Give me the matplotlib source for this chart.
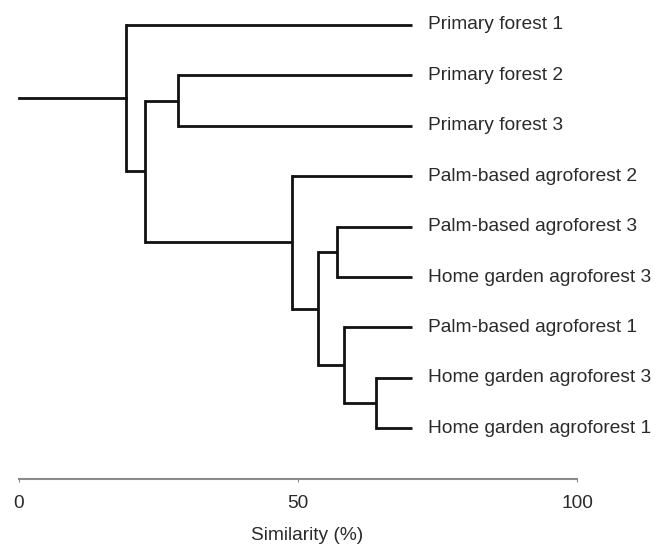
import matplotlib
matplotlib.use('Agg')
import matplotlib.pyplot as plt

# Leaf labels, top to bottom
leaves = ['Primary forest 1', 'Primary forest 2', 'Primary forest 3',
          'Palm-based agroforest 2', 'Palm-based agroforest 3',
          'Home garden agroforest 3', 'Palm-based agroforest 1',
          'Home garden agroforest 3', 'Home garden agroforest 1']

# Merges: (child a, child b, similarity %); leaves are 0-8, new nodes numbered from 9
merge_a = [7, 6, 4, 11, 3, 1, 14, 0]
merge_b = [8, 9, 5, 10, 12, 2, 13, 15]
merge_sim = [63.9, 58.2, 57.0, 53.6, 48.9, 28.5, 22.6, 19.2]

leaf_end = 70.4
root_start = 0
ticks = [0, 50, 100]

plt.rcParams['font.family'] = ['Liberation Sans', 'DejaVu Sans']

fig = plt.figure(figsize=(6.56, 5.46), dpi=100)
ax = fig.add_axes([0, 0, 1, 1])
ax.set_xlim(-3.405, 114.16)
ax.set_ylim(10.337, -0.496)

# Node positions
ypos = {i: float(i) for i in range(len(leaves))}
xpos = {i: leaf_end for i in range(len(leaves))}
n = len(leaves)
for a, b, s in zip(merge_a, merge_b, merge_sim):
    ax.plot([s, s], [ypos[a], ypos[b]], color='#111111', lw=2, solid_capstyle='projecting')
    ax.plot([s, xpos[a]], [ypos[a], ypos[a]], color='#111111', lw=2, solid_capstyle='butt')
    ax.plot([s, xpos[b]], [ypos[b], ypos[b]], color='#111111', lw=2, solid_capstyle='butt')
    ypos[n] = (ypos[a] + ypos[b]) / 2
    xpos[n] = s
    n += 1

# Root stem
root = n - 1
ax.plot([root_start, xpos[root]], [ypos[root], ypos[root]], color='#111111', lw=2)

# Leaf labels
for i, lab in enumerate(leaves):
    ax.text(73.3, i, lab, va='center', ha='left', fontsize=13.8, color='#2a2a2a')

# Similarity axis
for s in ['top', 'left', 'right']:
    ax.spines[s].set_visible(False)
ax.spines['bottom'].set_position(('data', 9.0))
ax.spines['bottom'].set_bounds(0, 100)
ax.spines['bottom'].set_color('#8a8a8a')
ax.spines['bottom'].set_linewidth(1.5)
ax.set_yticks([])
ax.set_xticks(ticks)
ax.set_xticklabels([str(t) for t in ticks])
ax.tick_params(axis='x', direction='out', length=2, color='#8a8a8a', pad=10,
               labelsize=13.8, labelcolor='#2a2a2a')
ax.set_xlabel('Similarity (%)', fontsize=13.8, color='#2a2a2a')
ax.xaxis.set_label_coords(0.468, 0.035)

fig.savefig('out.png', dpi=100)
